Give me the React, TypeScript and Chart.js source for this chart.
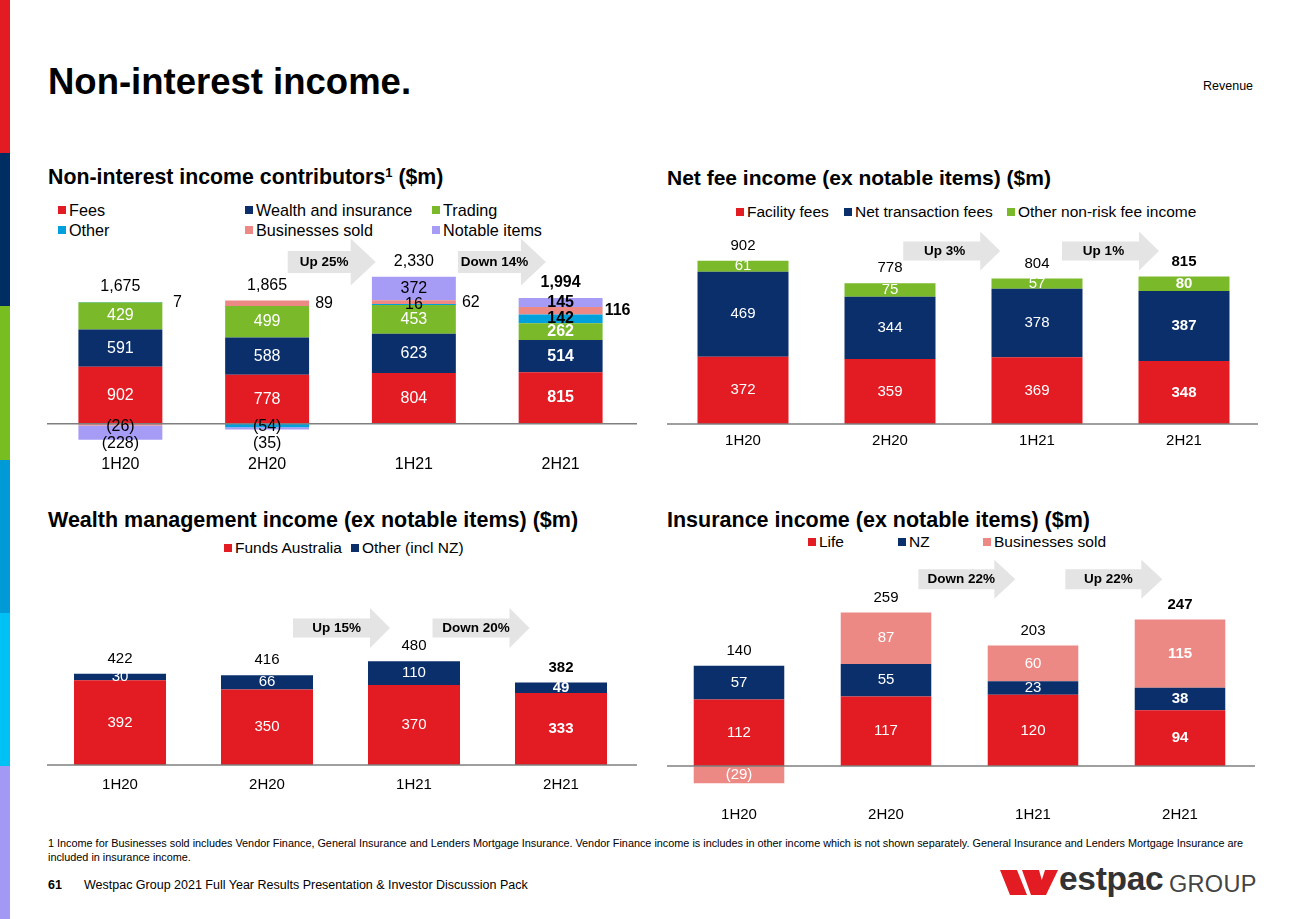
import React, { useEffect, useRef } from "react";
import { Chart, registerables } from "chart.js";
Chart.register(...registerables);

const FONT = '"Liberation Sans", Arial, Helvetica, sans-serif';

// ---------------- data ----------------
const periods = ["1H20", "2H20", "1H21", "2H21"];

const contribSeries = ["Fees", "Wealth and insurance", "Trading", "Other", "Businesses sold", "Notable items"];
const contribFees = [902, 778, 804, 815];
const contribWealthInsurance = [591, 588, 623, 514];
const contribTrading = [429, 499, 453, 262];
const contribOther = [7, -54, 16, 142];
const contribBusinessesSold = [-26, 89, 62, 116];
const contribNotableItems = [-228, -35, 372, 145];
const contribArrowText = ["Up 25%", "Down 14%"];

const feeSeries = ["Facility fees", "Net transaction fees", "Other non-risk fee income"];
const feeFacility = [372, 359, 369, 348];
const feeNetTransaction = [469, 344, 378, 387];
const feeOtherNonRisk = [61, 75, 57, 80];
const feeArrowText = ["Up 3%", "Up 1%"];

const wealthSeries = ["Funds Australia", "Other (incl NZ)"];
const wealthFundsAustralia = [392, 350, 370, 333];
const wealthOther = [30, 66, 110, 49];
const wealthArrowText = ["Up 15%", "Down 20%"];

const insSeries = ["Life", "NZ", "Businesses sold"];
const insLife = [112, 117, 120, 94];
const insNZ = [57, 55, 23, 38];
const insBusinessesSold = [-29, 87, 60, 115];
const insArrowText = ["Down 22%", "Up 22%"];

// ---------------- styles ----------------
const RED = "#E31B23";
const NAVY = "#0A2F6B";
const GREEN = "#7AB929";
const BLUE = "#00A0DC";
const PINK = "#EC8985";
const LAVENDER = "#A69CF6";
const ARROW = "#E4E4E4";

type Series = { name: string; data: number[]; color: string; labelColor: string; placement?: string[] };
type Spec = {
  left: number; top: number; width: number; height: number;
  padLeft: number; padRight: number; yMin: number; yMax: number;
  tickPad: number; barPct: number; lineExt: [number, number]; fontSize: number;
  series: Series[];
  arrows: { text: string; at: number; y: number }[];
  arrowSize: { w: number; body: number; head: number; headLen: number; textDx: number };
  comma: boolean;
};

const fmt = (v: number, comma: boolean) => {
  const a = Math.abs(v);
  const s = comma ? a.toLocaleString("en-US") : String(a);
  return v < 0 ? `(${s})` : s;
};

function overlayPlugin(spec: Spec) {
  return {
    id: "overlay",
    beforeDatasetsDraw(chart: any) {
      const ctx = chart.ctx;
      const xs = chart.scales.x;
      const ys = chart.scales.y;
      ctx.save();
      spec.arrows.forEach((a) => {
        const cx = xs.getPixelForValue(a.at);
        const cy = ys.getPixelForValue(a.y);
        const { w, body, head, headLen, textDx } = spec.arrowSize;
        const l = cx - w / 2;
        const br = l + w - headLen;
        ctx.fillStyle = ARROW;
        ctx.beginPath();
        ctx.moveTo(l, cy - body / 2);
        ctx.lineTo(br, cy - body / 2);
        ctx.lineTo(br, cy - head / 2);
        ctx.lineTo(l + w, cy);
        ctx.lineTo(br, cy + head / 2);
        ctx.lineTo(br, cy + body / 2);
        ctx.lineTo(l, cy + body / 2);
        ctx.closePath();
        ctx.fill();
        ctx.fillStyle = "#000";
        ctx.font = `bold 13.5px ${FONT}`;
        ctx.textAlign = "center";
        ctx.textBaseline = "middle";
        ctx.fillText(a.text, (l + br) / 2 + textDx, cy);
      });
      ctx.restore();
    },
    afterDatasetsDraw(chart: any) {
      const ctx = chart.ctx;
      const ys = chart.scales.y;
      const zero = ys.getPixelForValue(0);
      const area = chart.chartArea;
      ctx.save();
      ctx.strokeStyle = "#7F7F7F";
      ctx.lineWidth = 1.5;
      ctx.beginPath();
      ctx.moveTo(area.left + spec.lineExt[0], zero);
      ctx.lineTo(area.right + spec.lineExt[1], zero);
      ctx.stroke();
      ctx.textBaseline = "middle";
      const n = periods.length;
      for (let i = 0; i < n; i++) {
        const bold = i === n - 1;
        ctx.font = `${bold ? "bold " : ""}${spec.fontSize}px ${FONT}`;
        let negCount = 0;
        let total = 0;
        let pos = 0;
        let cx = 0;
        spec.series.forEach((s, d) => {
          const v = s.data[i];
          total += v;
          if (v > 0) pos += v;
          const el: any = chart.getDatasetMeta(d).data[i];
          cx = el.x;
          const place = s.placement ? s.placement[i] : "inside";
          let x = el.x;
          let y = (el.y + el.base) / 2;
          if (place === "right") x = el.x + el.width / 2 + 15;
          else if (place === "neg") {
            y = zero + 2.5 + negCount * 17;
            negCount++;
          }
          ctx.textAlign = "center";
          ctx.fillStyle = s.labelColor;
          ctx.fillText(fmt(v, spec.comma), x, y);
        });
        ctx.fillStyle = "#000";
        ctx.textAlign = "center";
        ctx.fillText(fmt(total, spec.comma), cx, ys.getPixelForValue(pos) - 15);
      }
      ctx.restore();
    },
  };
}

const contribSpec: Spec = {
  left: 40, top: 230, width: 604, height: 249, padLeft: 7, padRight: 10,
  yMin: -411.4, yMax: 3069.6, tickPad: 5, barPct: 0.572, lineExt: [0, 3], fontSize: 16,
  series: [
    { name: contribSeries[0], data: contribFees, color: RED, labelColor: "#fff" },
    { name: contribSeries[1], data: contribWealthInsurance, color: NAVY, labelColor: "#fff" },
    { name: contribSeries[2], data: contribTrading, color: GREEN, labelColor: "#fff" },
    { name: contribSeries[3], data: contribOther, color: BLUE, labelColor: "#000", placement: ["right", "neg", "inside", "inside"] },
    { name: contribSeries[4], data: contribBusinessesSold, color: PINK, labelColor: "#000", placement: ["neg", "right", "right", "right"] },
    { name: contribSeries[5], data: contribNotableItems, color: LAVENDER, labelColor: "#000", placement: ["neg", "neg", "inside", "inside"] },
  ],
  arrows: [
    { text: contribArrowText[0], at: 1.44, y: 2563 },
    { text: contribArrowText[1], at: 2.6, y: 2563 },
  ],
  arrowSize: { w: 88, body: 22, head: 47, headLen: 25, textDx: 5 },
  comma: true,
};

const feeSpec: Spec = {
  left: 660, top: 226, width: 605, height: 228, padLeft: 9.5, padRight: 7.5,
  yMin: -22.1, yMax: 1093.9, tickPad: 4, barPct: 0.619, lineExt: [-2.5, 0.5], fontSize: 15,
  series: [
    { name: feeSeries[0], data: feeFacility, color: RED, labelColor: "#fff" },
    { name: feeSeries[1], data: feeNetTransaction, color: NAVY, labelColor: "#fff" },
    { name: feeSeries[2], data: feeOtherNonRisk, color: GREEN, labelColor: "#fff" },
  ],
  arrows: [
    { text: feeArrowText[0], at: 1.42, y: 956 },
    { text: feeArrowText[1], at: 2.5, y: 956 },
  ],
  arrowSize: { w: 97, body: 19, head: 39, headLen: 20, textDx: 3 },
  comma: false,
};

const wealthSpec: Spec = {
  left: 40, top: 600, width: 604, height: 200, padLeft: 6.5, padRight: 9.5,
  yMin: -23.1, yMax: 763.9, tickPad: 6, barPct: 0.626, lineExt: [0.5, 2.5], fontSize: 15,
  series: [
    { name: wealthSeries[0], data: wealthFundsAustralia, color: RED, labelColor: "#fff" },
    { name: wealthSeries[1], data: wealthOther, color: NAVY, labelColor: "#fff" },
  ],
  arrows: [
    { text: wealthArrowText[0], at: 1.507, y: 634 },
    { text: wealthArrowText[1], at: 2.456, y: 634 },
  ],
  arrowSize: { w: 97, body: 19, head: 40, headLen: 20, textDx: 5 },
  comma: false,
};

const insSpec: Spec = {
  left: 660, top: 555, width: 605, height: 280, padLeft: 5.5, padRight: 11.5,
  yMin: -48.9, yMax: 355.8, tickPad: 11, barPct: 0.616, lineExt: [1.5, 1.5], fontSize: 15,
  series: [
    { name: insSeries[0], data: insLife, color: RED, labelColor: "#fff" },
    { name: insSeries[1], data: insNZ, color: NAVY, labelColor: "#fff" },
    { name: insSeries[2], data: insBusinessesSold, color: PINK, labelColor: "#fff" },
  ],
  arrows: [
    { text: insArrowText[0], at: 1.55, y: 315 },
    { text: insArrowText[1], at: 2.55, y: 315 },
  ],
  arrowSize: { w: 97, body: 20, head: 39, headLen: 21, textDx: 5 },
  comma: false,
};

function StackedBars({ spec }: { spec: Spec }) {
  const ref = useRef<HTMLCanvasElement>(null);
  useEffect(() => {
    if (!ref.current) return;
    const chart = new Chart(ref.current, {
      type: "bar",
      data: {
        labels: periods,
        datasets: spec.series.map((s) => ({
          label: s.name,
          data: s.data,
          backgroundColor: s.color,
          borderWidth: 0,
          barPercentage: spec.barPct,
          categoryPercentage: 1,
          stack: "s",
        })),
      },
      options: {
        animation: false,
        responsive: false,
        devicePixelRatio: 1,
        layout: { padding: { left: spec.padLeft, right: spec.padRight, top: 0, bottom: 0 } },
        plugins: { legend: { display: false }, tooltip: { enabled: false } },
        scales: {
          x: {
            stacked: true,
            grid: { display: false, drawTicks: false },
            border: { display: false },
            ticks: { padding: spec.tickPad, color: "#000", font: { family: FONT, size: spec.fontSize } },
          },
          y: { stacked: true, display: false, min: spec.yMin, max: spec.yMax },
        },
      } as any,
      plugins: [overlayPlugin(spec) as any],
    });
    return () => chart.destroy();
  }, [spec]);
  return (
    <canvas
      ref={ref}
      width={spec.width}
      height={spec.height}
      style={{ position: "absolute", left: spec.left, top: spec.top, width: spec.width, height: spec.height }}
    />
  );
}

function Txt({ x, base, size, bold, color, children }: any) {
  return (
    <div
      style={{
        position: "absolute", left: x, top: base - 0.8465 * size, fontSize: size, lineHeight: `${size}px`,
        fontWeight: bold ? "bold" : "normal", color: color || "#000", whiteSpace: "nowrap", fontFamily: FONT,
      }}
    >
      {children}
    </div>
  );
}

function Legend({ items, size }: { items: { x: number; y: number; name: string; color: string }[]; size: number }) {
  return (
    <>
      {items.map((it) => (
        <React.Fragment key={it.name + it.x}>
          <div style={{ position: "absolute", left: it.x, top: it.y - 4, width: 8, height: 8, background: it.color }} />
          <div style={{ position: "absolute", left: it.x + 11, top: it.y - 10, height: 20, lineHeight: "20px", fontSize: size, fontFamily: FONT, whiteSpace: "nowrap", color: "#000" }}>
            {it.name}
          </div>
        </React.Fragment>
      ))}
    </>
  );
}

const stripeColors = [RED, "#002D62", "#78BE20", "#009AD6", "#00C1F3", "#A498F5"];

export default function App() {
  return (
    <div style={{ position: "absolute", left: 0, top: 0, width: 1300, height: 919, overflow: "hidden", background: "#fff", fontFamily: FONT }}>
      {stripeColors.map((c, i) => (
        <div key={c} style={{ position: "absolute", left: 0, top: (919 / 6) * i, width: 10, height: 919 / 6 + 0.5, background: c }} />
      ))}
      <Txt x={48} base={95} size={36.5} bold>Non-interest income.</Txt>
      <Txt x={1203} base={91} size={12.5}>Revenue</Txt>

      <Txt x={48} base={185} size={21.3} bold>Non-interest income contributors<sup style={{ fontSize: 13, lineHeight: 0, verticalAlign: 7 }}>1</sup> ($m)</Txt>
      <Txt x={667} base={185} size={21} bold>Net fee income (ex notable items) ($m)</Txt>
      <Txt x={48} base={528} size={21.5} bold>Wealth management income (ex notable items) ($m)</Txt>
      <Txt x={667} base={528} size={21.5} bold>Insurance income (ex notable items) ($m)</Txt>

      <Legend
        size={16.2}
        items={[
          { x: 58, y: 210, name: contribSeries[0], color: RED },
          { x: 245, y: 210, name: contribSeries[1], color: NAVY },
          { x: 432, y: 210, name: contribSeries[2], color: GREEN },
          { x: 58, y: 230, name: contribSeries[3], color: BLUE },
          { x: 245, y: 230, name: contribSeries[4], color: PINK },
          { x: 432, y: 230, name: contribSeries[5], color: LAVENDER },
        ]}
      />
      <Legend
        size={15.5}
        items={[
          { x: 736, y: 212, name: feeSeries[0], color: RED },
          { x: 844, y: 212, name: feeSeries[1], color: NAVY },
          { x: 1007, y: 212, name: feeSeries[2], color: GREEN },
        ]}
      />
      <Legend
        size={15.5}
        items={[
          { x: 224, y: 548, name: wealthSeries[0], color: RED },
          { x: 351, y: 548, name: wealthSeries[1], color: NAVY },
        ]}
      />
      <Legend
        size={15.5}
        items={[
          { x: 808, y: 542, name: insSeries[0], color: RED },
          { x: 898, y: 542, name: insSeries[1], color: NAVY },
          { x: 983, y: 542, name: insSeries[2], color: PINK },
        ]}
      />

      <StackedBars spec={contribSpec} />
      <StackedBars spec={feeSpec} />
      <StackedBars spec={wealthSpec} />
      <StackedBars spec={insSpec} />

      <Txt x={48} base={847} size={10.85}>
        1 Income for Businesses sold includes Vendor Finance, General Insurance and Lenders Mortgage Insurance. Vendor Finance income is includes in other income which is not shown separately. General Insurance and Lenders Mortgage Insurance are
      </Txt>
      <Txt x={48} base={861} size={10.85}>included in insurance income.</Txt>
      <Txt x={48} base={890} size={12.5} bold>61</Txt>
      <Txt x={84} base={890} size={12.5}>Westpac Group 2021 Full Year Results Presentation &amp; Investor Discussion Pack</Txt>

      <svg style={{ position: "absolute", left: 1000, top: 870 }} width={60} height={26} viewBox="0 0 60 26">
        <polygon points="0,0 17,0 27,25 10,25" fill={RED} />
        <polygon points="22,0 39,0 46,25 31,25" fill={RED} />
        <polygon points="46,25 37,25 45,0 58,0" fill={RED} />
      </svg>
      <div style={{ position: "absolute", left: 1059, top: 861, fontSize: 33.5, lineHeight: "36px", fontWeight: "bold", color: "#333", fontFamily: FONT, letterSpacing: -0.3 }}>estpac</div>
      <div style={{ position: "absolute", left: 1169, top: 871, fontSize: 23.5, lineHeight: "26px", color: "#444", fontFamily: FONT, letterSpacing: 0.3 }}>GROUP</div>
    </div>
  );
}
